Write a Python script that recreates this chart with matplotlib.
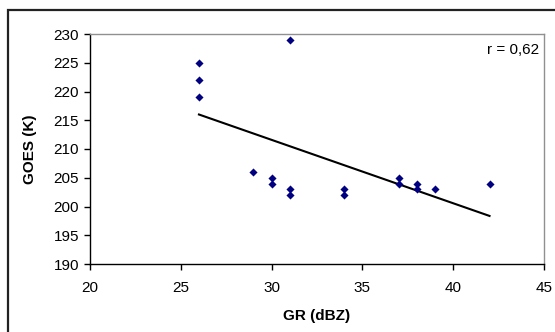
import numpy as np
import matplotlib
matplotlib.use("Agg")
import matplotlib.pyplot as plt
from matplotlib.patches import Rectangle

gr_dbz = [26, 26, 26, 29, 30, 30, 31, 31, 31, 34, 34, 37, 37, 38, 38, 39, 42]
goes_k = [225, 222, 219, 206, 205, 204, 229, 203, 202, 203, 202, 205, 204, 204, 203, 203, 204]
x_ticks = [20, 25, 30, 35, 40, 45]
y_ticks = [190, 195, 200, 205, 210, 215, 220, 225, 230]
r_label = "r = 0,62"

plt.rcParams['font.family'] = ['Liberation Sans', 'DejaVu Sans']

W, H = 555, 332
fig = plt.figure(figsize=(W / 100, H / 100), dpi=100)

# outer chart frame (cropped on right/bottom)
fig.patches.append(Rectangle((8 / W, -0.1), 1.2, (H - 10) / H + 0.1,
                             transform=fig.transFigure, fill=False,
                             edgecolor='#222222', linewidth=1.6))

ax = fig.add_axes([90 / W, (H - 264) / H, (544 - 90) / W, (264 - 34) / H])

ax.scatter(gr_dbz, goes_k, marker='D', s=17, color='#000080', zorder=3, linewidths=0)

x = np.array(gr_dbz, dtype=float)
y = np.array(goes_k, dtype=float)
m, b = np.polyfit(x, y, 1)
xs = np.array([x.min(), x.max()])
ax.plot(xs, m * xs + b, color='black', linewidth=1.5, zorder=2)

ax.set_xlim(x_ticks[0], x_ticks[-1])
ax.set_ylim(y_ticks[0], y_ticks[-1])
ax.set_xticks(x_ticks)
ax.set_yticks(y_ticks)
ax.tick_params(axis='both', direction='out', length=4, width=1, labelsize=11,
               colors='black')
ax.tick_params(axis='x', pad=8)
ax.tick_params(axis='y', pad=4)

for s in ['left', 'bottom']:
    ax.spines[s].set_color('black')
    ax.spines[s].set_linewidth(1)
for s in ['top', 'right']:
    ax.spines[s].set_color('#909090')
    ax.spines[s].set_linewidth(1)

ax.set_xlabel('GR (dBZ)', fontsize=11, fontweight='bold', labelpad=10)
ax.set_ylabel('GOES (K)', fontsize=11, fontweight='bold', labelpad=12)

ax.text(0.99, 0.93, r_label, transform=ax.transAxes, ha='right', va='center',
        fontsize=11)

fig.savefig('out.png', dpi=100)
